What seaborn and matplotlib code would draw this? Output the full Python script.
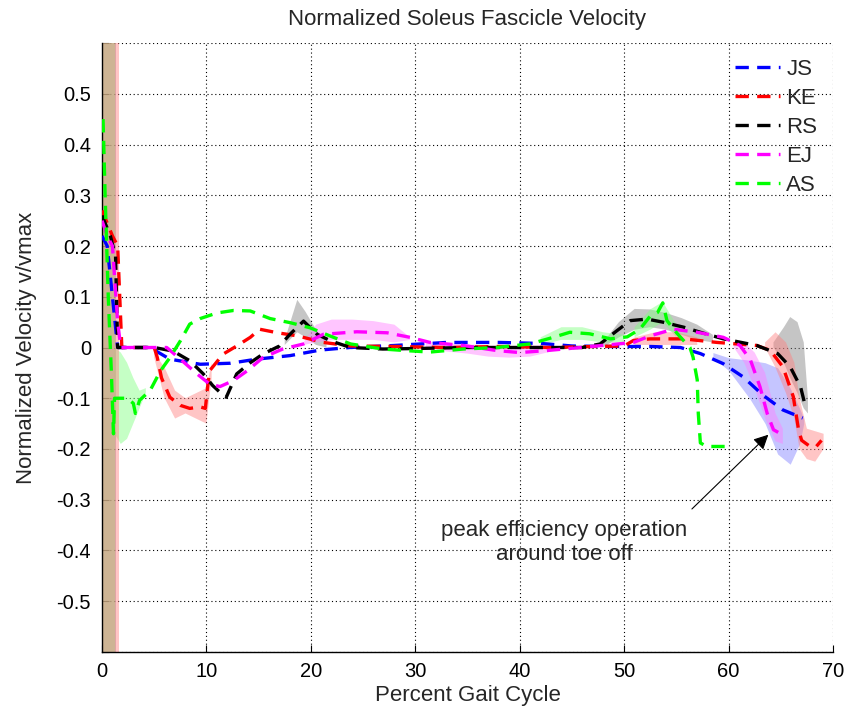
import numpy as np
import pandas as pd
import matplotlib
matplotlib.use("Agg")
import matplotlib.pyplot as plt
import seaborn as sns

nan = np.nan

# ---- fascicle velocity traces (percent gait cycle, v/vmax) ----
JS_x = [0, 0.5, 1.0, 1.5, 3.0, 4.6, 6.5, 9.4, 12.3, 14.8, 18.0, 20.9, 23.7, 28, 33, 38, 42,
        45, 48, 52.5, 55.4, 57.3, 59.5, 61.4, 63.3, 65.2, 67.1]
JS_y = [0.22, 0.2, 0.1, 0.0, 0.0, 0.0, -0.023, -0.033, -0.031, -0.023, -0.016, -0.005, 0.0,
        0.004, 0.01, 0.01, 0.008, 0.003, 0.002, 0.002, 0.0, -0.012, -0.032, -0.058, -0.094,
        -0.123, -0.139]

KE_x = [0, 1.0, 1.5, 1.7, 1.9, 3.0, 5.0, 5.3, 5.7, 6.5, 7.5, 8.4, 9.4, 9.9, 10.1, 10.3, 11.6,
        12.9, 14.2, 15.1, 16.8, 18.7, 21.2, 23.8, 28, 33, 38, 43, 47, 50.0, 50.9, 52.5, 55.7,
        58.9, 62.7, 64.0, 65.2, 66.2, 66.7, 67.0, 67.8, 68.4, 68.9]
KE_y = [0.27, 0.22, 0.2, 0.1, 0.0, 0.0, 0.0, -0.02, -0.06, -0.098, -0.114, -0.12, -0.117,
        -0.12, -0.08, -0.046, -0.013, 0.003, 0.02, 0.036, 0.029, 0.023, 0.01, 0.003, 0.002,
        0.0, 0.002, 0.0, 0.002, 0.003, 0.014, 0.017, 0.017, 0.01, 0.004, -0.006, -0.038,
        -0.097, -0.162, -0.183, -0.195, -0.195, -0.183]

RS_x = [0, 0.8, 1.3, 1.5, 3.0, 5.0, 6.8, 8.4, 9.7, 10.6, 11.6, 11.9, 12.9, 14.2, 15.4, 17.0,
        18.0, 19.3, 20.6, 21.9, 23.8, 26.9, 30, 35, 40, 43, 46, 47.7, 49.3, 50.6, 52.2, 53.7,
        55.7, 57.3, 59.5, 62.7, 64.7, 65.9, 66.9, 67.4]
RS_y = [0.26, 0.22, 0.18, 0.0, 0.0, 0.0, -0.007, -0.026, -0.052, -0.075, -0.094, -0.098,
        -0.052, -0.03, -0.013, 0.003, 0.026, 0.052, 0.026, 0.013, 0.0, -0.003, -0.002, 0.0,
        0.0, 0.0, 0.0, 0.007, 0.033, 0.053, 0.056, 0.05, 0.04, 0.03, 0.017, 0.004, -0.012,
        -0.038, -0.078, -0.12]

EJ_x = [0, 0.5, 1.0, 1.5, 1.8, 4.0, 6.2, 7.5, 9.1, 10.3, 11.3, 12.6, 13.9, 15.4, 17.3, 19.3,
        21.2, 24.4, 27.3, 29.5, 31.4, 34.6, 37.8, 40.0, 42.6, 45.8, 48.9, 50.9, 52.5, 54.7,
        57.0, 59.5, 61.1, 62.1, 63.0, 63.7, 64.3, 64.9]
EJ_y = [0.25, 0.22, 0.2, 0.05, 0.0, 0.0, 0.0, -0.023, -0.052, -0.072, -0.077, -0.065, -0.046,
        -0.02, -0.003, 0.007, 0.026, 0.031, 0.029, 0.02, 0.01, 0.004, -0.006, -0.01, -0.006,
        0.0, 0.006, 0.01, 0.023, 0.036, 0.03, 0.02, 0.004, -0.025, -0.077, -0.13, -0.162,
        -0.169]

AS_x = [0.1, 0.3, 0.6, 0.9, 1.1, 1.2, 2.4, 3.0, 3.2, 3.6, 4.6, 5.6, 6.5, 7.5, 8.4, 9.4, 11.0,
        12.6, 14.2, 16.1, 18.0, 19.9, 21.8, 23.8, 26.9, 29.0, 31.4, 34.6, 37.8, 41.0, 43.2,
        44.8, 46.7, 48.7, 50.3, 51.5, 52.5, 53.2, 53.7, 54.1, 55.1, 56.3, 56.6, 57.0, 57.1,
        57.3, 57.9, 60.2]
AS_y = [0.45, 0.3, 0.1, -0.05, -0.17, -0.1, -0.1, -0.11, -0.13, -0.104, -0.085, -0.046, -0.02,
        0.013, 0.046, 0.057, 0.068, 0.073, 0.072, 0.057, 0.049, 0.039, 0.023, 0.007, -0.003,
        -0.006, -0.009, -0.003, 0.0, 0.007, 0.02, 0.03, 0.027, 0.017, 0.021, 0.036, 0.062,
        0.069, 0.088, 0.053, 0.027, 0.0, -0.019, -0.064, -0.13, -0.188, -0.195, -0.195]

# ---- variability bands (NaN separates segments) ----
RS_band_x = [0, 1.3, nan, 17.5, 18.7, 19.5, 20.5, 21.5, nan,
             48, 49.5, 51, 52.5, 54, 55.5, 57, 58.5, nan,
             64.3, 65.3, 65.9, 66.6, 67.2, 67.6]
RS_band_lo = [-1, -1, nan, 0.005, 0.03, 0.02, 0.005, 0.0, nan,
              0.0, 0.02, 0.035, 0.04, 0.035, 0.025, 0.015, 0.01, nan,
              0.0, -0.03, -0.06, -0.09, -0.12, -0.13]
RS_band_hi = [1, 1, nan, 0.015, 0.094, 0.07, 0.035, 0.012, nan,
              0.01, 0.05, 0.076, 0.075, 0.068, 0.058, 0.045, 0.025, nan,
              0.01, 0.04, 0.06, 0.05, 0.01, -0.1]

JS_band_x = [58.5, 60, 62, 63.5, 64.7, 65.9, 66.8, 67.2]
JS_band_lo = [-0.02, -0.045, -0.10, -0.15, -0.21, -0.23, -0.19, -0.15]
JS_band_hi = [-0.01, -0.02, -0.025, -0.03, -0.04, -0.08, -0.12, -0.14]

EJ_band_x = [19.3, 20.5, 22, 24, 26, 28, 29.5, nan,
             31, 33, 35, 37, 39, 41, 43, nan,
             60.5, 61.5, 62.5, 63.5, 64.5, 65.2]
EJ_band_lo = [0.005, 0.01, 0.015, 0.015, 0.015, 0.01, 0.015, nan,
              0.0, -0.008, -0.012, -0.018, -0.02, -0.018, -0.008, nan,
              0.0, -0.03, -0.08, -0.14, -0.185, -0.19]
EJ_band_hi = [0.01, 0.045, 0.055, 0.055, 0.052, 0.045, 0.02, nan,
              0.012, 0.008, 0.006, 0.004, 0.003, 0.004, 0.004, nan,
              0.01, 0.01, -0.01, -0.05, -0.13, -0.16]

AS_band_x = [0, 1.2, nan, 1.2, 1.8, 2.4, 3.0, 3.6, 4.2, nan,
             42, 44, 46, 48, 50, nan, 51, 52.5, 53.7, 55]
AS_band_lo = [-1, -1, nan, -0.17, -0.19, -0.18, -0.15, -0.12, -0.09, nan,
              0.005, 0.015, 0.015, 0.01, 0.01, nan, 0.02, 0.035, 0.05, 0.02]
AS_band_hi = [1, 1, nan, 0.0, -0.01, -0.03, -0.06, -0.085, -0.08, nan,
              0.02, 0.04, 0.04, 0.03, 0.025, nan, 0.04, 0.075, 0.09, 0.045]

KE_band_x = [0, 1.6, nan, 5.0, 6.0, 7.0, 8.0, 9.0, 10.0, 10.5, nan,
             51, 53, 55, 57, nan,
             63.5, 64.5, 65.5, 66.3, 66.8, 67.5, 68.3, 69.1]
KE_band_lo = [-1, -1, nan, -0.02, -0.10, -0.14, -0.13, -0.14, -0.15, -0.06, nan,
              0.005, 0.005, 0.005, 0.005, nan,
              0.0, -0.04, -0.09, -0.14, -0.20, -0.22, -0.225, -0.20]
KE_band_hi = [1, 1, nan, -0.01, -0.04, -0.085, -0.10, -0.09, -0.08, -0.03, nan,
              0.02, 0.03, 0.03, 0.02, nan,
              0.01, 0.03, 0.01, -0.03, -0.10, -0.16, -0.165, -0.17]

subjects = ["JS", "KE", "RS", "EJ", "AS"]
line_colors = {"JS": "#0000ff", "KE": "#ff0000", "RS": "#000000", "EJ": "#ff00ff", "AS": "#00ff00"}
band_colors = {"JS": "#8080ff", "KE": "#ff8080", "RS": "#808080", "EJ": "#ff80ff", "AS": "#80ff80"}

traces = {"JS": (JS_x, JS_y), "KE": (KE_x, KE_y), "RS": (RS_x, RS_y),
          "EJ": (EJ_x, EJ_y), "AS": (AS_x, AS_y)}
bands = [("RS", RS_band_x, RS_band_lo, RS_band_hi),
         ("JS", JS_band_x, JS_band_lo, JS_band_hi),
         ("EJ", EJ_band_x, EJ_band_lo, EJ_band_hi),
         ("AS", AS_band_x, AS_band_lo, AS_band_hi),
         ("KE", KE_band_x, KE_band_lo, KE_band_hi)]

frames = []
for s in subjects:
    x, y = traces[s]
    frames.append(pd.DataFrame({"subject": s, "pct": x, "vel": y}))
df = pd.concat(frames, ignore_index=True)

sns.set_style("white")
plt.rcParams["font.family"] = ["Liberation Sans", "DejaVu Sans"]
plt.rcParams["font.size"] = 16

fig = plt.figure(figsize=(8.45, 7.11), dpi=100)
ax = fig.add_axes([0.1207, 0.083, 0.8651, 0.8565])

for s, bx, blo, bhi in bands:
    bx = np.asarray(bx, float)
    blo = np.asarray(blo, float)
    bhi = np.asarray(bhi, float)
    ok = np.isfinite(blo)
    ax.fill_between(np.nan_to_num(bx), np.nan_to_num(blo), np.nan_to_num(bhi), where=ok,
                    color=band_colors[s], alpha=0.45, lw=0, zorder=1)

for s in subjects:
    sns.lineplot(data=df[df["subject"] == s], x="pct", y="vel", color=line_colors[s],
                 lw=2.4, linestyle=(0, (4, 2.5)), sort=False, estimator=None,
                 label=s, ax=ax, zorder=3)

ax.set_xlim(0, 70)
ax.set_ylim(-0.6, 0.6)
ax.set_xticks(np.arange(0, 71, 10))
yt = np.round(np.arange(-0.6, 0.61, 0.1), 1)
ax.set_yticks(yt)
ax.set_yticklabels(["" if abs(v) > 0.55 else ("0" if v == 0 else f"{v:g}") for v in yt])
ax.tick_params(direction="in", length=5, width=0.8, colors="black", labelsize=14.5,
               left=True, bottom=True, top=False, right=False)
ax.tick_params(axis="y", pad=8)
ax.tick_params(axis="x", pad=7)

ax.grid(True, linestyle=(0, (1, 2.5)), color="black", lw=0.8, zorder=0)
ax.set_axisbelow(True)
for side in ["top", "right"]:
    ax.spines[side].set_visible(False)
for side in ["left", "bottom"]:
    ax.spines[side].set_color("black")
    ax.spines[side].set_linewidth(1.0)

ax.set_title("Normalized Soleus Fascicle Velocity", fontsize=16, pad=13)
ax.set_xlabel("Percent Gait Cycle", fontsize=16, labelpad=3)
ax.set_ylabel("Normalized Velocity v/vmax", fontsize=16, labelpad=14)

ax.legend(loc="upper right", frameon=False, handlelength=2.0, labelspacing=0.36,
          handletextpad=0.3, fontsize=16, borderaxespad=0.3)

ax.annotate("", xy=(64.0, -0.168), xytext=(56.3, -0.322),
            arrowprops=dict(arrowstyle="-|>", color="black", lw=0.8, mutation_scale=22))
ax.text(44.25, -0.385, "peak efficiency operation\naround toe off", ha="center",
        va="center", fontsize=16, linespacing=1.2)

fig.savefig("out.png", dpi=100)
